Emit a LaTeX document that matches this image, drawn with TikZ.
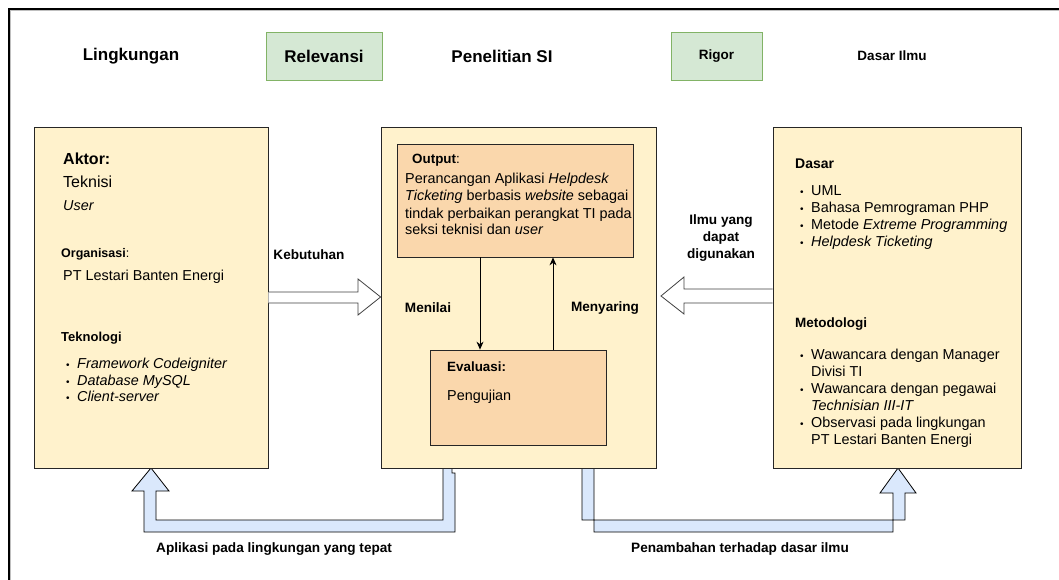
\documentclass[tikz,border=0pt]{standalone}
\usepackage{fontspec}
\setmainfont{Liberation Sans}
\usetikzlibrary{arrows.meta}
\definecolor{yel}{HTML}{FFF2CC}
\definecolor{ora}{HTML}{FAD7AC}
\definecolor{grn}{HTML}{D5E8D4}
\definecolor{grnb}{HTML}{82B366}
\definecolor{blu}{HTML}{DAE8FC}
\definecolor{bdr}{HTML}{262626}
\newcommand{\myfs}[1]{\fontsize{#1}{#1}\selectfont}
\begin{document}
\begin{tikzpicture}[x=1pt,y=-1pt,
  ybox/.style={draw=bdr, fill=yel, line width=0.8pt, inner sep=0},
  obox/.style={draw=bdr, fill=ora, line width=0.8pt, inner sep=0},
  gbox/.style={draw=grnb, fill=grn, line width=0.8pt, inner sep=0, minimum height=48},
  tl/.style={inner sep=0, anchor=mid west, font=\myfs{14.4}},
  tb/.style={inner sep=0, anchor=mid west, font=\bfseries\myfs{13.5}},
  lab/.style={inner sep=0, font=\bfseries\myfs{13.6}},
  hdr/.style={inner sep=0, font=\bfseries\myfs{17}},
  blk/.style={draw=black!75, fill=white, line width=0.8pt},
  uarr/.style={draw=black, fill=blu, line width=0.8pt, line join=miter},
  thin/.style={-{Stealth[length=8pt,width=7pt]}, line width=0.8pt}
]
\useasboundingbox (0,0) rectangle (1059,580);
% frame
\draw[line width=1.2pt, black!25] (10.8,580) -- (10.8,10.8) -- (1059,10.8);
\draw[line width=1.6pt] (9,580) -- (9,9) -- (1059,9);

% header
\node[hdr] (lk) at (131,56) {Lingkungan};
\node[gbox, minimum width=116, font=\bfseries\myfs{17}] (rel) at (324,56) {Relevansi};
\node[hdr] (ps) at (502,56) {Penelitian SI};
\node[gbox, minimum width=91, font=\bfseries\myfs{13.5}] (rig) at (716.5,56) {Rigor};
\node[inner sep=0, font=\bfseries\myfs{13.5}] (di) at (892,56) {Dasar Ilmu};

% U arrows (behind boxes)
\coordinate (lt) at (151,468);
\coordinate (rt) at (898,468);
\draw[uarr] (443,468) -- (443,520) -- (156,520) -- (156,491) -- (169,491) -- (lt)
  -- (132,491) -- (144,491) -- (144,532) -- (455,532) -- (455,473) -- (452,473) -- (452,468);
\draw[uarr] (582,468) -- (582,520) -- (905,520) -- (905,493) -- (916,493) -- (rt)
  -- (880,493) -- (893,493) -- (893,532) -- (594,532) -- (594,468);

% main boxes
\node[ybox, minimum width=234, minimum height=341] (L) at (151,297.5) {};
\node[ybox, minimum width=275, minimum height=341] (M) at (518.5,297.5) {};
\node[ybox, minimum width=248, minimum height=341] (R) at (897,297.5) {};
\node[obox, minimum width=236, minimum height=113] (O) at (515,200.5) {};
\node[obox, minimum width=176, minimum height=95] (E) at (518,397.5) {};

% inner arrows
\draw[thin] (O.south -| 480,0) -- (E.north -| 480,0);
\draw[thin] (E.north -| 553,0) -- (O.south -| 553,0);
\node[lab] (mn) at (428,308) {Menilai};
\node[lab] (my) at (605,308) {Menyaring};

% block arrows
\draw[blk] (L.east |- 0,292) -- (358,292) -- (358,279) -- (M.west |- 0,297) -- (358,315) -- (358,303) -- (L.east |- 0,303);
\draw[blk] (R.west |- 0,289) -- (684,289) -- (684,277) -- (661,296) -- (684,314) -- (684,303) -- (R.west |- 0,303);
\node[lab] (kb) at (309,255) {Kebutuhan};
\node[lab] (i1) at (721,221) {Ilmu yang};
\node[lab] (i2) at (721,238) {dapat};
\node[lab] (i3) at (721,255) {digunakan};

% left box text
\node[tl, font=\bfseries\myfs{16}] (a1) at (63,162) {Aktor:};
\node[tl, font=\myfs{16}] (a2) at (63,185) {Teknisi};
\node[tl] (a3) at (63,208) {\itshape User};
\node[tl, font=\myfs{12.5}] (a4) at (61,255) {\textbf{Organisasi}:};
\node[tl] (a5) at (63,278) {PT Lestari Banten Energi};
\node[tl, font=\bfseries\myfs{13}] (a6) at (61,339) {Teknologi};
\node[tl, font=\myfs{10}] (b1) at (66,366) {\textbullet};
\node[tl] (a7) at (77,366) {\itshape Framework Codeigniter};
\node[tl, font=\myfs{10}] (b2) at (66,383) {\textbullet};
\node[tl] (a8) at (77,383) {\itshape Database MySQL};
\node[tl, font=\myfs{10}] (b3) at (66,399) {\textbullet};
\node[tl] (a9) at (77,399) {\itshape Client-server};

% middle text
\node[tl, font=\myfs{13.4}] (o1) at (412,161) {\textbf{Output}:};
\node[tl] (o2) at (405,181) {Perancangan Aplikasi \textit{Helpdesk}};
\node[tl] (o3) at (405,198) {\textit{Ticketing} berbasis \textit{website} sebagai};
\node[tl] (o4) at (405,216) {tindak perbaikan perangkat TI pada};
\node[tl] (o5) at (405,232) {seksi teknisi dan \textit{user}};
\node[tb, font=\bfseries\myfs{13.4}] (e1) at (447,369) {Evaluasi:};
\node[tl] (e2) at (447,398) {Pengujian};

% right box text
\node[tb, font=\bfseries\myfs{14}] (d1) at (795,166) {Dasar};
\node[tl, font=\myfs{10}] (c1) at (800,193) {\textbullet};
\node[tl] (d2) at (811,193) {UML};
\node[tl, font=\myfs{10}] (c2) at (800,210) {\textbullet};
\node[tl] (d3) at (811,210) {Bahasa Pemrograman PHP};
\node[tl, font=\myfs{10}] (c3) at (800,227) {\textbullet};
\node[tl] (d4) at (811,227) {Metode \textit{Extreme Programming}};
\node[tl, font=\myfs{10}] (c4) at (800,244) {\textbullet};
\node[tl] (d5) at (811,244) {\itshape Helpdesk Ticketing};
\node[tb] (m1) at (795,325) {Metodologi};
\node[tl, font=\myfs{10}] (c5) at (800,357) {\textbullet};
\node[tl] (m2) at (811,357) {Wawancara dengan Manager};
\node[tl] (m3) at (811,374) {Divisi TI};
\node[tl, font=\myfs{10}] (c6) at (800,391) {\textbullet};
\node[tl] (m4) at (811,391) {Wawancara dengan pegawai};
\node[tl] (m5) at (811,408) {\itshape Technisian III-IT};
\node[tl, font=\myfs{10}] (c7) at (800,425) {\textbullet};
\node[tl] (m6) at (811,425) {Observasi pada lingkungan};
\node[tl] (m7) at (811,442) {PT Lestari Banten Energi};

% bottom labels
\node[lab, anchor=mid west] (bl) at (156,550) {Aplikasi pada lingkungan yang tepat};
\node[lab, anchor=mid west] (br) at (631,550) {Penambahan terhadap dasar ilmu};
\end{tikzpicture}
\end{document}
